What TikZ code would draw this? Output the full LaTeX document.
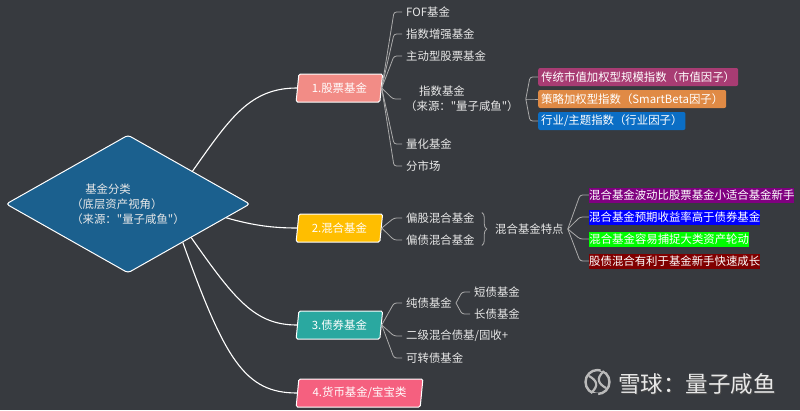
\documentclass[tikz,border=0pt]{standalone}
\usepackage{fontspec}
\usepackage{xcolor}
\usepackage{tikz}
\usetikzlibrary{calc,shapes.geometric,decorations.pathreplacing}
\newfontfamily\cjk{Noto Sans CJK SC}
\definecolor{slate}{HTML}{373A3F}
\definecolor{rootblue}{HTML}{1B608E}
\definecolor{salmon}{HTML}{F28C86}
\definecolor{amber}{HTML}{FFBE00}
\definecolor{jade}{HTML}{2AA8A0}
\definecolor{rose}{HTML}{F5607F}
\definecolor{plum}{HTML}{A83C73}
\definecolor{apricot}{HTML}{E08A45}
\definecolor{azure}{HTML}{0B6EC5}
\definecolor{markpurple}{HTML}{800080}
\definecolor{markred}{HTML}{800000}
\definecolor{paper}{HTML}{E8E8E8}
\definecolor{twiggray}{HTML}{ABABAB}
\tikzset{
  txt/.style={font=\cjk\fontsize{11.4}{15}\selectfont,text=paper},
  leaf/.style={txt,anchor=west,inner xsep=4pt,inner ysep=2pt,align=left},
  fund/.style={txt,text=white,draw=white,line width=1pt,shape=trapezium,trapezium stretches=true,trapezium left angle=80,trapezium right angle=100,rounded corners=1.5pt,minimum height=28pt,anchor=west,inner sep=0pt},
  tagbox/.style={txt,text=white,anchor=west,rounded corners=2pt,minimum height=18pt,inner xsep=3pt,inner ysep=0pt},
  markbox/.style={txt,text=white,anchor=west,minimum height=15pt,inner xsep=0pt,inner ysep=0pt},
  trunk/.style={draw=white,line width=1.1pt},
  twig/.style={draw=twiggray,line width=.8pt,rounded corners=2.5pt}
}
\begin{document}
\begin{tikzpicture}[x=1pt,y=-1pt]
\fill[slate] (0,0) rectangle (800,410);
\useasboundingbox (0,0) rectangle (800,410);
\node[txt,shape=diamond,aspect=1.77,draw=white,line width=1pt,fill=rootblue,rounded corners=3pt,minimum width=244pt,minimum height=138pt,inner sep=0pt,align=left] (root) at (128,204) {\hspace*{14pt}基金分类\\（底层资产视角）\\（来源："量子咸鱼"）};
\node[fund,fill=salmon,minimum width=87pt] (stock) at (297,88) {1.股票基金};
\node[fund,fill=amber,minimum width=87pt] (mixed) at (297,228) {2.混合基金};
\node[fund,fill=jade,minimum width=87pt] (bond) at (297,325) {3.债券基金};
\node[fund,fill=rose,minimum width=127pt] (money) at (297,393) {4.货币基金/宝宝类};
\draw[trunk] (root.27) .. controls (230,118) and (250,88) .. (stock.west);
\draw[trunk] (root.-8) .. controls (255,226) and (275,228) .. (mixed.west);
\draw[trunk] (root.-28) .. controls (235,300) and (255,325) .. (bond.west);
\draw[trunk] (root.-35) .. controls (225,360) and (245,393) .. (money.west);
\node[leaf] (fof) at (402,12) {FOF基金};
\node[leaf] (enhanced) at (402,34) {指数增强基金};
\node[leaf] (active) at (402,56) {主动型股票基金};
\node[leaf] (index) at (401,99) {\hspace*{14pt}指数基金\\（来源："量子咸鱼"）};
\node[leaf] (quant) at (402,144) {量化基金};
\node[leaf] (market) at (402,166) {分市场};
\foreach \leafname in {fof,enhanced,active,index,quant,market}
  \draw[twig] (stock.east) -- ([xshift=-8pt]\leafname.west) -- (\leafname.west);
\node[tagbox,fill=plum,minimum width=200pt] (cap) at (538,77) {传统市值加权型规模指数（市值因子）};
\node[tagbox,fill=apricot,minimum width=188pt] (beta) at (538,99) {策略加权型指数（SmartBeta因子）};
\node[tagbox,fill=azure,minimum width=147pt] (sector) at (538,121) {行业/主题指数（行业因子）};
\foreach \leafname in {cap,beta,sector}
  \draw[twig] ([xshift=3pt]index.east) -- ([xshift=-8pt]\leafname.west) -- (\leafname.west);
\node[leaf] (equity) at (402,218) {偏股混合基金};
\node[leaf] (debt) at (402,240) {偏债混合基金};
\foreach \leafname in {equity,debt}
  \draw[twig] (mixed.east) -- ([xshift=-8pt]\leafname.west) -- (\leafname.west);
\node[leaf] (traits) at (491,229) {混合基金特点};
\draw[twiggray,line width=.8pt,decorate,decoration={brace,amplitude=5pt}] ([shift={(3pt,-2pt)}]equity.north east) -- ([shift={(3pt,2pt)}]debt.south east);
\node[markbox,fill=markpurple,minimum width=205pt] (swing) at (589,195) {混合基金波动比股票基金小适合基金新手};
\node[markbox,fill=blue,minimum width=171pt] (yield) at (589,217) {混合基金预期收益率高于债券基金};
\node[markbox,fill=green,minimum width=160pt] (rotate) at (589,239) {混合基金容易捕捉大类资产轮动};
\node[markbox,fill=markred,minimum width=171pt] (grow) at (589,261) {股债混合有利于基金新手快速成长};
\foreach \leafname in {swing,yield,rotate,grow}
  \draw[twig] (traits.east) -- ([xshift=-9pt]\leafname.west) -- (\leafname.west);
\node[leaf] (pure) at (402,303) {纯债基金};
\node[leaf] (second) at (402,336) {二级混合债基/固收+};
\node[leaf] (convert) at (402,358) {可转债基金};
\foreach \leafname in {pure,second,convert}
  \draw[twig] (bond.east) -- ([xshift=-8pt]\leafname.west) -- (\leafname.west);
\node[leaf] (short) at (470,292) {短债基金};
\node[leaf] (long) at (470,314) {长债基金};
\foreach \leafname in {short,long}
  \draw[twig] (pure.east) -- ([xshift=-8pt]\leafname.west) -- (\leafname.west);
\draw[paper!80!black,line width=2.4pt] (597.5,382) circle (12);
\draw[slate,line width=4pt] (592,395) -- (598,395) (601,369) -- (607,370);
\draw[paper!80!black,line width=2.2pt] (589,376) .. controls (596,380) and (600,385) .. (591,393);
\draw[paper!80!black,line width=2.2pt] (606,388) .. controls (599,384) and (595,379) .. (604,371);
\node[anchor=west,inner sep=0pt,font=\cjk\fontsize{22.5}{25}\selectfont,text=black!70] (markshade) at (619,384.5) {雪球：量子咸鱼};
\node[anchor=west,inner sep=0pt,font=\cjk\fontsize{22.5}{25}\selectfont,text=paper] (mark) at (618,383.5) {雪球：量子咸鱼};
\end{tikzpicture}
\end{document}
